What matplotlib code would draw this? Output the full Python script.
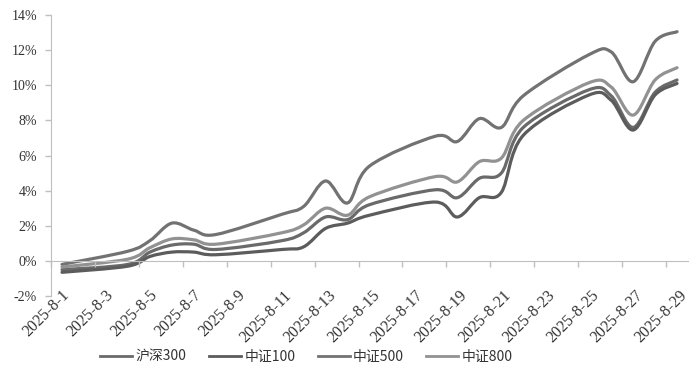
import matplotlib.pyplot as plt
from matplotlib.path import Path
from matplotlib.patches import PathPatch
from matplotlib.lines import Line2D
import matplotlib.transforms as mtransforms

# trading days of August 2025 (day of month)
days = [1, 4, 5, 6, 7, 8, 11, 12, 13, 14, 15, 18, 19, 20, 21, 22, 25, 26, 27, 28, 29]

# cumulative return, %
hs300 = [-0.5, -0.2, 0.5, 0.9, 0.95, 0.65, 1.15, 1.6, 2.5, 2.35, 3.2,
         4.05, 3.6, 4.7, 5.0, 7.6, 9.75, 9.4, 7.6, 9.6, 10.3]
zz100 = [-0.65, -0.3, 0.25, 0.5, 0.5, 0.35, 0.65, 0.8, 1.85, 2.15, 2.6,
         3.35, 2.5, 3.6, 3.9, 7.15, 9.45, 9.15, 7.45, 9.45, 10.1]
zz500 = [-0.2, 0.55, 1.15, 2.15, 1.75, 1.5, 2.65, 3.1, 4.55, 3.3, 5.4,
         7.1, 6.8, 8.1, 7.6, 9.4, 11.75, 11.9, 10.2, 12.5, 13.05]
zz800 = [-0.35, 0.1, 0.75, 1.25, 1.2, 0.95, 1.6, 2.05, 3.0, 2.6, 3.65,
         4.8, 4.5, 5.65, 5.85, 8.0, 10.15, 9.9, 8.3, 10.3, 11.0]

names = ['沪深300', '中证100', '中证500', '中证800']
colors = ['#6a6a6a', '#5c5c5c', '#727272', '#929292']

tick_days = list(range(1, 30, 2))
tick_labels = ['2025-8-%d' % d for d in tick_days]
y_ticks = list(range(-2, 15, 2))


def smooth_path(xs, ys):
    # bezier curve through the points (like excel "smoothed line")
    pts = list(zip(xs, ys))
    n = len(pts)
    verts = [pts[0]]
    codes = [Path.MOVETO]
    for i in range(n - 1):
        p0 = pts[max(i - 1, 0)]
        p1 = pts[i]
        p2 = pts[i + 1]
        p3 = pts[min(i + 2, n - 1)]
        c1 = (p1[0] + (p2[0] - p0[0]) / 6, p1[1] + (p2[1] - p0[1]) / 6)
        c2 = (p2[0] - (p3[0] - p1[0]) / 6, p2[1] - (p3[1] - p1[1]) / 6)
        verts += [c1, c2, p2]
        codes += [Path.CURVE4] * 3
    return Path(verts, codes)


fig = plt.figure(figsize=(7, 3.87), dpi=100)
ax = fig.add_axes([0.0729, 0.2351, 0.910, 0.7261])

# points sit between the date ticks
xs = [d + 0.5 for d in days]
handles = []
for vals, name, c in zip([hs300, zz100, zz500, zz800], names, colors):
    patch = PathPatch(smooth_path(xs, vals), facecolor='none', edgecolor=c,
                      lw=2.3, capstyle='round', joinstyle='round')
    ax.add_patch(patch)
    handles.append(Line2D([], [], color=c, lw=2.0, label=name))

ax.set_xlim(1, 30)
ax.set_ylim(-2, 14)

for s in ['top', 'right']:
    ax.spines[s].set_visible(False)
ax.spines['left'].set_color('#bfbfbf')
ax.spines['bottom'].set_color('#bfbfbf')
ax.spines['bottom'].set_position(('data', 0))

ax.set_yticks(y_ticks)
ax.set_yticklabels(['%d%%' % v for v in y_ticks], fontfamily='Liberation Serif',
                   fontsize=10, color='#333333')
ax.set_xticks(tick_days)
ax.set_xticklabels(tick_labels, fontfamily='Liberation Serif', fontsize=11.5,
                   color='#333333', rotation=45, ha='center', va='top')
ax.tick_params(axis='both', color='#bfbfbf', length=4, width=1)
ax.tick_params(axis='x', pad=15)
ax.tick_params(axis='y', pad=6)

offset = mtransforms.ScaledTranslation(-5 / 100, 0, fig.dpi_scale_trans)
for lab in ax.get_xticklabels():
    lab.set_transform(lab.get_transform() + offset)

fig.legend(handles=handles, loc='center', bbox_to_anchor=(0.438, 0.0775),
           ncol=4, frameon=False, handlelength=2.3, handletextpad=0.25,
           columnspacing=1.6, prop={'family': ['Noto Sans CJK SC', 'DejaVu Sans'], 'size': 10},
           labelcolor='#333333')

fig.savefig('out.png', dpi=100)
